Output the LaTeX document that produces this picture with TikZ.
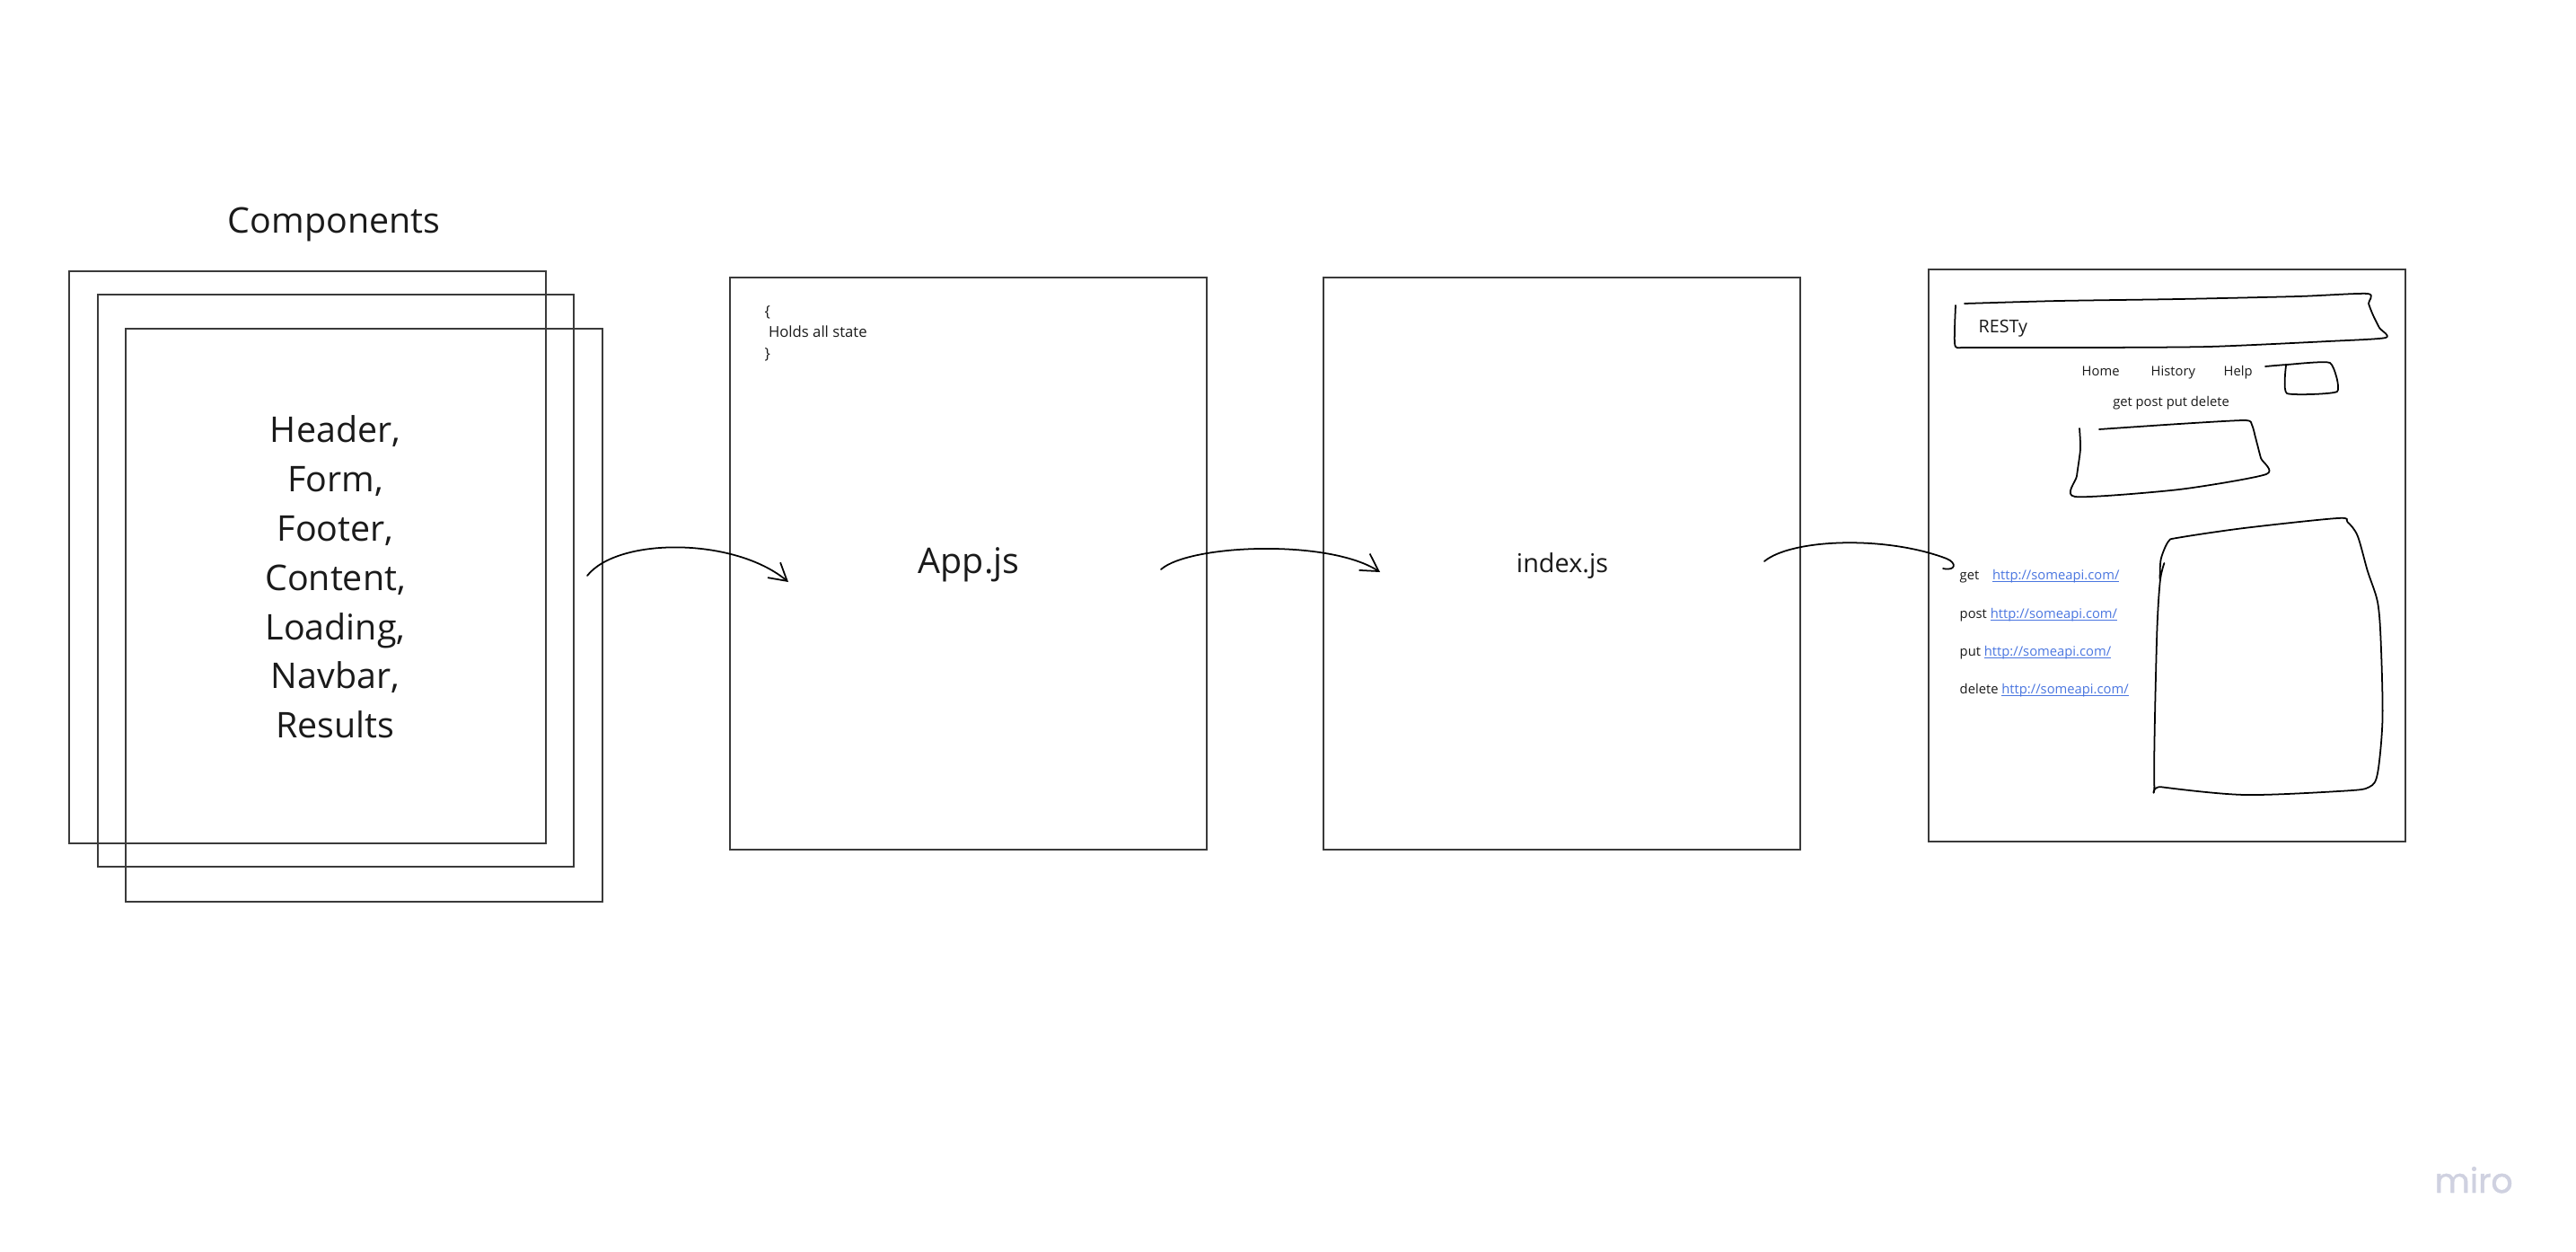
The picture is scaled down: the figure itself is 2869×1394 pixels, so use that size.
\documentclass[tikz,border=0pt]{standalone}
\usepackage{fontspec}
\setmainfont{Open Sans}
\newfontfamily\logofont{Poppins}[FakeBold=1.2]
\usepackage{tikz}
\usetikzlibrary{arrows.meta}

\definecolor{boxgray}{HTML}{3A3A3A}
\definecolor{inkblack}{HTML}{1A1A1A}
\definecolor{linkblue}{HTML}{4A76E0}
\definecolor{logogray}{HTML}{CFD1E0}
\newsavebox{\linkbox}
\newcommand{\apilink}[1]{\textcolor{linkblue}{\sbox{\linkbox}{#1}\rlap{\rule[-0.9pt]{\wd\linkbox}{0.3pt}}\usebox{\linkbox}}}

\begin{document}
\begin{tikzpicture}[x=0.01cm, y=-0.01cm,
    panel/.style={draw=boxgray, line width=0.5pt, minimum width=5.3cm, minimum height=6.37cm, inner sep=0pt},
    sketch/.style={draw=black, line width=0.5pt, line cap=round, line join=round},
    barb/.style={-{Straight Barb[length=0.19cm, width=0.22cm]}},
    bigtext/.style={text=inkblack, font=\fontsize{11.2}{15.6}\selectfont, inner sep=0pt},
    midtext/.style={text=inkblack, font=\fontsize{8.2}{10}\selectfont, inner sep=0pt},
    statetext/.style={text=inkblack, font=\fontsize{4.75}{6.7}\selectfont, inner sep=0pt},
    titletext/.style={text=inkblack, font=\fontsize{5.6}{7}\selectfont, inner sep=0pt},
    smalltext/.style={text=inkblack, font=\fontsize{4.2}{6}\selectfont, inner sep=0pt}]
            \fill[white] (0,0) rectangle (2869,1394);
            \useasboundingbox (0,0) rectangle (2869,1394);

            % The stack of components
            \node[bigtext, anchor=base] (comptitle) at (372,260) {Components};
            \node[panel] (comp1) at (342.5,620.5) {};
            \node[panel] (comp2) at (374,646.5) {};
            \node[panel] (comp3) at (405.5,685) {};
            \node[bigtext, align=center] (complist) at (373.5,642.5) {Header,\\Form,\\Footer,\\Content,\\Loading,\\Navbar,\\Results};

            % App and index
            \node[panel] (app) at (1078.5,627.5) {};
            \node[bigtext, anchor=base] (applabel) at (1079,638) {App.js};
            \node[statetext, anchor=west, align=left] (appstate) at (851,371) {\{\\~Holds all state\\\}};
            \node[panel] (index) at (1739.5,627.5) {};
            \node[midtext, anchor=base] (indexlabel) at (1740,637) {index.js};

            % The page mock-up
            \node[panel] (resty) at (2413.5,618.5) {};
            \node[titletext, anchor=base west] (restytitle) at (2203,370) {RESTy};
            \node[smalltext, anchor=base west] (navhome) at (2318,418) {Home};
            \node[smalltext, anchor=base west] (navhistory) at (2395,418) {History};
            \node[smalltext, anchor=base west] (navhelp) at (2476,418) {Help};
            \node[smalltext, anchor=base] (methods) at (2418,452) {get post put delete};
            \node[smalltext, anchor=base west] (rowget) at (2182,645) {get\quad\apilink{http://someapi.com/}};
            \node[smalltext, anchor=base west] (rowpost) at (2182,688) {post \apilink{http://someapi.com/}};
            \node[smalltext, anchor=base west] (rowput) at (2182,730) {put \apilink{http://someapi.com/}};
            \node[smalltext, anchor=base west] (rowdelete) at (2182,772) {delete \apilink{http://someapi.com/}};

            % Hand drawn parts
            \draw[sketch] plot[smooth, tension=0.4] coordinates {(2188,338) (2293,335) (2427,333) (2560,330) (2637,327) (2638,338) (2643,351) (2650,365) (2657,376) (2593,380) (2460,386) (2327,387) (2193,387) (2178,386) (2177,367) (2178,340)};
            \draw[sketch] plot[smooth, tension=0.3] coordinates {(2523,408) (2547,406) (2595,404) (2603,436) (2547,438) (2546,407)};
            \draw[sketch] plot[smooth, tension=0.4] coordinates {(2338,478) (2427,472) (2500,468) (2508,473) (2512,487) (2518,510) (2524,528) (2427,545) (2311,553) (2313,530) (2317,500) (2316,477)};
            \draw[sketch] plot[smooth, tension=0.5] coordinates {(2405.6,644.3) (2406.7,622.6) (2414.9,603) (2426,598.7) (2500,587.9) (2603.5,577) (2614.6,581.4) (2625.7,596.6) (2636.8,635.6) (2648,670.3) (2651.6,713.7) (2653.5,800.4) (2648,861) (2638.7,876.3) (2611,880.6) (2500,885) (2407.5,876.3) (2399.3,872) (2402,713.7) (2405.6,648.6) (2410.4,627)};

            % The arrows
            \coordinate (a1s) at (654,641);
            \coordinate (a1e) at (878,648);
            \coordinate (a2s) at (1293,634);
            \coordinate (a2e) at (1537,637);
            \coordinate (a3s) at (1965,625);
            \coordinate (a3e) at (2164,633);
            \draw[sketch, barb] (a1s) .. controls (688,598) and (818,598) .. (a1e);
            \draw[sketch, barb] (a2s) .. controls (1325,606) and (1480,600) .. (a2e);
            \draw[sketch] (a3s) .. controls (1995,600) and (2100,596) .. (2168,622) .. controls (2180,627) and (2178,636) .. (a3e);

            \node[text=logogray, font=\logofont\fontsize{10.8}{12}\selectfont, anchor=base west, inner sep=0pt] (logo) at (2711,1328) {miro};
        \end{tikzpicture}
\end{document}
